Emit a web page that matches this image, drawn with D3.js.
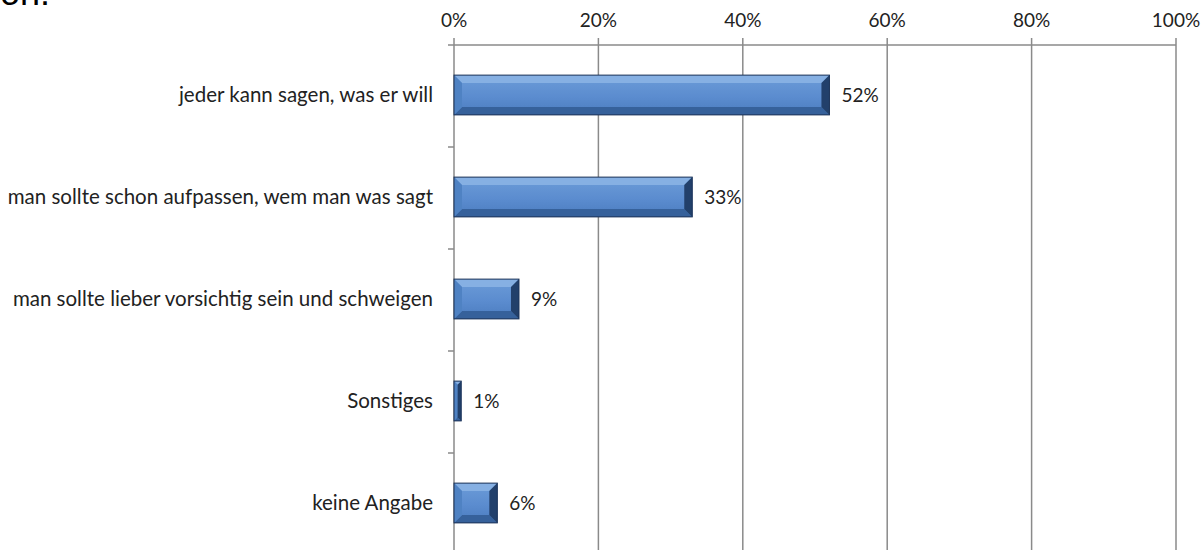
<!DOCTYPE html>
<html><head><meta charset="utf-8">
<script src="https://cdn.jsdelivr.net/npm/d3@7"></script>
<style>
body{margin:0;background:#fff;}
text{font-family:Lato,"Open Sans","Liberation Sans",sans-serif;fill:#222;}
</style></head>
<body><svg id="c" width="1202" height="550"></svg>
<script>
const categories = ["jeder kann sagen, was er will","man sollte schon aufpassen, wem man was sagt","man sollte lieber vorsichtig sein und schweigen","Sonstiges","keine Angabe"];
const values = [52,33,9,1,6];
const valueLabels = ["52%","33%","9%","1%","6%"];
const tickValues = [0,20,40,60,80,100];
const tickLabels = ["0%","20%","40%","60%","80%","100%"];
const titleFragment = "on:";

const svg = d3.select("#c");
const x = d3.scaleLinear().domain([0,100]).range([454,1176]);
const y = d3.scaleBand().domain(categories).range([45,555]).paddingInner(0).paddingOuter(0);

svg.append("text").text(titleFragment).attr("x",0).attr("y",5)
  .style("font-family","'Liberation Sans',Arial,sans-serif").style("font-size","36px").style("fill","#000");

const defs = svg.append("defs");
const g1 = defs.append("linearGradient").attr("id","barg").attr("x1",0).attr("x2",0).attr("y1",0).attr("y2",1);
g1.append("stop").attr("offset","0%").attr("stop-color","#6c9cd8");
g1.append("stop").attr("offset","55%").attr("stop-color","#5b8ccf");
g1.append("stop").attr("offset","100%").attr("stop-color","#4b7cbf");

// gridlines
svg.append("g").selectAll("line").data(tickValues).join("line")
  .attr("x1",d=>x(d)).attr("x2",d=>x(d)).attr("y1",38).attr("y2",550)
  .attr("stroke","#8a8a8a").attr("stroke-width",1.5);
// top axis line
svg.append("line").attr("x1",x(0)).attr("x2",x(100)).attr("y1",45).attr("y2",45).attr("stroke","#8a8a8a").attr("stroke-width",1.5);
// tick labels
svg.append("g").selectAll("text").data(tickValues).join("text")
  .attr("x",d=>x(d)).attr("y",27).attr("text-anchor","middle").style("font-size","19px")
  .text((d,i)=>tickLabels[i]);
// y ticks at band boundaries
const bounds = categories.slice(1).map(c=>y(c));
svg.append("g").selectAll("line").data(bounds).join("line")
  .attr("x1",x(0)-6).attr("x2",x(0)).attr("y1",d=>d).attr("y2",d=>d)
  .attr("stroke","#8a8a8a").attr("stroke-width",1.5);
svg.append("line").attr("x1",x(0)-6).attr("x2",x(0)).attr("y1",45).attr("y2",45).attr("stroke","#8a8a8a").attr("stroke-width",1.5);

// category labels
svg.append("g").selectAll("text").data(categories).join("text")
  .attr("x",433).attr("y",d=>y(d)+y.bandwidth()/2-1).attr("dy","0.35em").attr("text-anchor","end")
  .style("font-size","20.5px").text(d=>d);

// bars
const bh = y.bandwidth()*0.39;
const bars = svg.append("g").selectAll("g").data(categories).join("g")
  .attr("transform",d=>`translate(0,${y(d)+y.bandwidth()/2-1-bh/2})`);
bars.each(function(d,i){
  const g = d3.select(this);
  const x0 = x(0), w = x(values[i]) - x(0), h = bh;
  const b = Math.min(8, w/2);
  g.append("rect").attr("x",x0).attr("y",0).attr("width",w).attr("height",h).attr("fill","url(#barg)");
  g.append("polygon").attr("points",`${x0},0 ${x0+w},0 ${x0+w-b},${b} ${x0+b},${b}`).attr("fill","#86b0e3");
  g.append("polygon").attr("points",`${x0},${h} ${x0+w},${h} ${x0+w-b},${h-b} ${x0+b},${h-b}`).attr("fill","#36619b");
  g.append("polygon").attr("points",`${x0},0 ${x0+b},${b} ${x0+b},${h-b} ${x0},${h}`).attr("fill","#4f82c3");
  g.append("polygon").attr("points",`${x0+w},0 ${x0+w-b},${b} ${x0+w-b},${h-b} ${x0+w},${h}`).attr("fill","#22406b");
  g.append("rect").attr("x",x0).attr("y",0).attr("width",w).attr("height",h).attr("fill","none").attr("stroke","#1c3358").attr("stroke-width",1);
});

// value labels
svg.append("g").selectAll("text").data(categories).join("text")
  .attr("x",(d,i)=>x(values[i])+12).attr("y",d=>y(d)+y.bandwidth()/2-1).attr("dy","0.35em")
  .style("font-size","19px").text((d,i)=>valueLabels[i]);
</script></body></html>
